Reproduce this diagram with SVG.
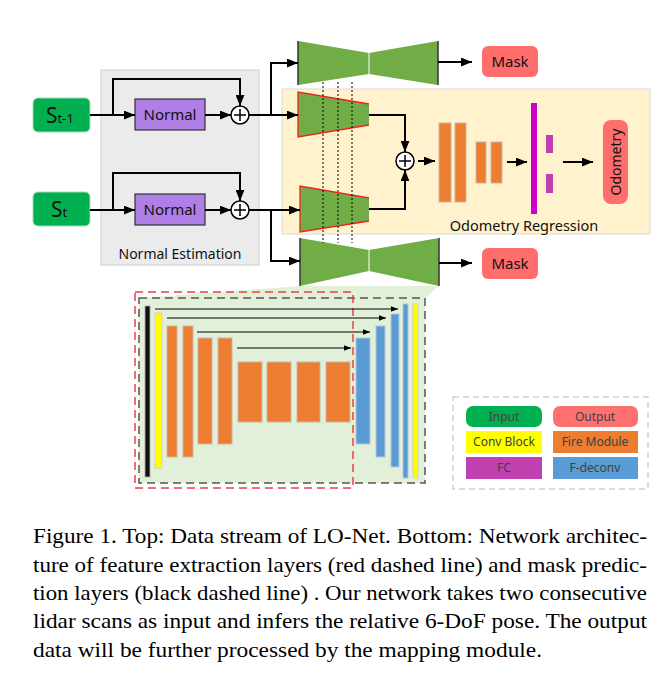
<svg xmlns="http://www.w3.org/2000/svg" width="663" height="685" viewBox="0 0 663 685">
<style>
.t{font-family:"Noto Sans","Open Sans",sans-serif;fill:#111}
.lg{font-family:"Noto Sans","Open Sans",sans-serif;fill:#404040;font-size:12px;text-anchor:middle}
.cap{font-family:"Liberation Serif","Times New Roman",serif;font-size:22px;fill:#000}
.ln{fill:none;stroke:#000;stroke-width:2}
.thin{fill:none;stroke:#000;stroke-width:1}
.dot{stroke:#000;stroke-width:1;stroke-dasharray:2,2}
.org{fill:#ed7d31;stroke:#c9b8a8;stroke-width:1}
.blu{fill:#5b9bd5;stroke:#b8c8d8;stroke-width:1}
.grn{fill:#70ad47}
</style>
<defs>
<marker id="ah" viewBox="0 0 10 8" refX="10" refY="4" markerWidth="11" markerHeight="9" markerUnits="userSpaceOnUse" orient="auto"><path d="M0,0 L10,4 L0,8 z" fill="#000"/></marker>
<marker id="as" viewBox="0 0 10 8" refX="10" refY="4" markerWidth="7" markerHeight="6" markerUnits="userSpaceOnUse" orient="auto"><path d="M0,0 L10,4 L0,8 z" fill="#000"/></marker>
</defs>
<rect width="663" height="685" fill="#fff"/>

<!-- background panels -->
<g id="normal-estimation">
<rect x="101" y="70" width="158" height="195" fill="#ebebeb" stroke="#d0d0d0"/>
<text class="t" x="180" y="259" font-size="14" text-anchor="middle">Normal Estimation</text>
</g>
<g id="odometry-regression">
<rect x="282" y="89" width="368" height="145" fill="#fff2cc" stroke="#d9d9d9"/>
<text class="t" x="524" y="231" font-size="14.5" text-anchor="middle">Odometry Regression</text>
</g>

<!-- inputs -->
<g id="s-t-1">
<rect x="33" y="98" width="57" height="34" rx="5" fill="#00b050" stroke="#a8d8b8"/>
<text class="t" x="46" y="123" font-size="21">S<tspan font-size="13">t-1</tspan></text>
</g>
<g id="s-t">
<rect x="33" y="192" width="57" height="34" rx="5" fill="#00b050" stroke="#a8d8b8"/>
<text class="t" x="51" y="217" font-size="21">S<tspan font-size="13">t</tspan></text>
</g>

<g id="normal-1">
<rect x="135" y="99" width="70" height="31" fill="#b07fe6" stroke="#333" stroke-width="1.2"/>
<text class="t" x="170" y="120" font-size="15" text-anchor="middle">Normal</text>
</g>
<g id="normal-2">
<rect x="135" y="194" width="70" height="31" fill="#b07fe6" stroke="#333" stroke-width="1.2"/>
<text class="t" x="170" y="215" font-size="15" text-anchor="middle">Normal</text>
</g>
<g id="plus-1">
<circle cx="240" cy="115" r="9" fill="#fff" stroke="#000" stroke-width="1.5"/>
<path d="M234,115 H246 M240,109 V121" stroke="#000" stroke-width="1.5"/>
</g>
<g id="plus-2">
<circle cx="240" cy="210" r="9" fill="#fff" stroke="#000" stroke-width="1.5"/>
<path d="M234,210 H246 M240,204 V216" stroke="#000" stroke-width="1.5"/>
</g>

<!-- lower green fan to detail -->
<polygon points="300,286 439,286 425,298 139,298" fill="#e2efd9"/>

<!-- hourglasses -->
<g id="mask-net-top">
<polygon class="grn" points="298,41 369,53 369,74 298,85"/>
<polygon class="grn" points="369,53 438,41 438,85 369,74"/>
<path d="M298,41 V85 M438,41 V85" stroke="#333" stroke-width="1.5"/>
<path d="M369,53 V74" stroke="#fff" stroke-width="1"/>
</g>
<g id="mask-net-bottom">
<polygon class="grn" points="300,238 369,250 369,271 300,286"/>
<polygon class="grn" points="369,250 439,238 439,286 369,271"/>
<path d="M300,238 V286 M439,238 V286" stroke="#333" stroke-width="1.5"/>
<path d="M369,250 V271" stroke="#fff" stroke-width="1"/>
</g>

<g id="encoder-top">
<polygon class="grn" points="298,92 369,104 369,125 298,137"/>
<path d="M369,104 L298,92 V137 L369,125" fill="none" stroke="#f02020" stroke-width="1.3"/>
</g>
<g id="encoder-bottom">
<polygon class="grn" points="300,186 369,198 369,221 300,232"/>
<path d="M369,198 L300,186 V232 L369,221" fill="none" stroke="#f02020" stroke-width="1.3"/>
</g>

<g id="plus-3">
<circle cx="405" cy="161" r="9" fill="#fff" stroke="#000" stroke-width="1.5"/>
<path d="M399,161 H411 M405,155 V167" stroke="#000" stroke-width="1.5"/>
</g>

<g id="fire-layers">
<rect class="org" x="439" y="123" width="12" height="79"/>
<rect class="org" x="455" y="123" width="11" height="79"/>
<rect class="org" x="476" y="142" width="10" height="41"/>
<rect class="org" x="491" y="142" width="11" height="41"/>
</g>
<g id="fc-layers">
<rect x="531" y="103" width="6" height="111" fill="#cc00cc"/>
<rect x="546" y="135" width="7" height="18" fill="#c040b0"/>
<rect x="546" y="174" width="7" height="19" fill="#c040b0"/>
</g>
<g id="odometry">
<rect x="603" y="120" width="25" height="84" rx="8" fill="#ff6d6d"/>
<text class="t" transform="translate(621,162) rotate(-90)" font-size="14" text-anchor="middle">Odometry</text>
</g>
<g id="mask-top">
<rect x="482" y="46" width="56" height="31" rx="6" fill="#ff6d6d"/>
<text class="t" x="510" y="67" font-size="15" text-anchor="middle">Mask</text>
</g>
<g id="mask-bottom">
<rect x="482" y="248" width="56" height="31" rx="6" fill="#ff6d6d"/>
<text class="t" x="510" y="269" font-size="15" text-anchor="middle">Mask</text>
</g>

<!-- connectors -->
<g id="connectors">
<line class="ln" x1="90" y1="115" x2="135" y2="115" marker-end="url(#ah)"/>
<polyline class="ln" points="113,115 113,79 240,79 240,106" marker-end="url(#ah)"/>
<line class="ln" x1="205" y1="115" x2="231" y2="115" marker-end="url(#ah)"/>
<line class="ln" x1="90" y1="210" x2="135" y2="210" marker-end="url(#ah)"/>
<polyline class="ln" points="113,210 113,173 240,173 240,201" marker-end="url(#ah)"/>
<line class="ln" x1="205" y1="210" x2="231" y2="210" marker-end="url(#ah)"/>
<line class="ln" x1="249" y1="115" x2="298" y2="115" marker-end="url(#ah)"/>
<polyline class="ln" points="271,115 271,63 298,63" marker-end="url(#ah)"/>
<line class="ln" x1="249" y1="210" x2="300" y2="210" marker-end="url(#ah)"/>
<polyline class="ln" points="271,210 271,261 300,261" marker-end="url(#ah)"/>
<polyline class="ln" points="369,115 405,115 405,152" marker-end="url(#ah)"/>
<polyline class="ln" points="369,209 405,209 405,170" marker-end="url(#ah)"/>
<line class="ln" x1="418" y1="161" x2="435" y2="161" marker-end="url(#ah)"/>
<line class="ln" x1="507" y1="162" x2="527" y2="162" marker-end="url(#ah)"/>
<line class="ln" x1="563" y1="162" x2="593" y2="162" marker-end="url(#ah)"/>
<line class="ln" x1="438" y1="62" x2="472" y2="62" marker-end="url(#ah)"/>
<line class="ln" x1="439" y1="263" x2="472" y2="263" marker-end="url(#ah)"/>
<line class="dot" x1="323" y1="82" x2="323" y2="243"/>
<line class="dot" x1="338" y1="82" x2="338" y2="243"/>
<line class="dot" x1="352" y1="82" x2="352" y2="243"/>
</g>

<!-- detail architecture -->
<g id="architecture">
<rect x="139" y="298" width="286" height="185" fill="#e2efd9" stroke="#555" stroke-width="1.5" stroke-dasharray="8,5"/>
<rect x="135" y="292" width="218" height="196" fill="none" stroke="#f04040" stroke-width="1.5" stroke-dasharray="8,5"/>
<rect x="145" y="306" width="5" height="171" fill="#111" stroke="#aaa" stroke-width="0.8"/>
<rect x="155" y="313" width="7" height="155" fill="#ffff00" stroke="#ccc" stroke-width="0.8"/>
<rect class="org" x="167" y="326" width="10" height="131"/>
<rect class="org" x="183" y="326" width="10" height="131"/>
<rect class="org" x="198" y="338" width="14" height="106"/>
<rect class="org" x="218" y="338" width="14" height="106"/>
<rect class="org" x="238" y="362" width="24" height="60"/>
<rect class="org" x="267" y="362" width="24" height="60"/>
<rect class="org" x="297" y="362" width="23" height="60"/>
<rect class="org" x="326" y="362" width="24" height="60"/>
<rect class="blu" x="356" y="338" width="14" height="106"/>
<rect class="blu" x="376" y="326" width="9" height="131"/>
<rect class="blu" x="391" y="314" width="8" height="153"/>
<rect class="blu" x="403" y="304" width="5" height="174"/>
<rect x="413" y="304" width="5" height="174" fill="#ffff00" stroke="#ccc" stroke-width="0.8"/>
</g>
<g id="skip-connectors">
<line class="thin" x1="155" y1="309" x2="398" y2="309" marker-end="url(#as)"/>
<line class="thin" x1="167" y1="318" x2="386" y2="318" marker-end="url(#as)"/>
<line class="thin" x1="197" y1="332" x2="370" y2="332" marker-end="url(#as)"/>
<line class="thin" x1="237" y1="348" x2="351" y2="348" marker-end="url(#as)"/>
</g>

<!-- legend -->
<g id="legend">
<rect x="453" y="397" width="195" height="92" fill="#fff" stroke="#cfcfcf" stroke-width="1.5" stroke-dasharray="6,4"/>
<rect x="466" y="406" width="76" height="21" rx="7" fill="#00b050"/>
<text class="lg" x="504" y="421">Input</text>
<rect x="553" y="406" width="85" height="21" rx="7" fill="#ff7070"/>
<text class="lg" x="595" y="421">Output</text>
<rect x="466" y="431" width="76" height="22" fill="#ffff00"/>
<text class="lg" x="504" y="446">Conv Block</text>
<rect x="553" y="431" width="85" height="22" fill="#ed7d31"/>
<text class="lg" x="595" y="446">Fire Module</text>
<rect x="466" y="457" width="76" height="22" fill="#c040b0"/>
<text class="lg" x="504" y="472">FC</text>
<rect x="553" y="457" width="85" height="22" fill="#5b9bd5"/>
<text class="lg" x="595" y="472">F-deconv</text>
</g>

<!-- caption -->
<g id="caption">
<text class="cap" x="33" y="543" textLength="614" lengthAdjust="spacingAndGlyphs">Figure 1. Top: Data stream of LO-Net. Bottom: Network architec-</text>
<text class="cap" x="33" y="572" textLength="614" lengthAdjust="spacingAndGlyphs">ture of feature extraction layers (red dashed line) and mask predic-</text>
<text class="cap" x="33" y="600" textLength="614" lengthAdjust="spacingAndGlyphs">tion layers (black dashed line) . Our network takes two consecutive</text>
<text class="cap" x="33" y="628" textLength="614" lengthAdjust="spacingAndGlyphs">lidar scans as input and infers the relative 6-DoF pose. The output</text>
<text class="cap" x="33" y="657" textLength="509" lengthAdjust="spacingAndGlyphs">data will be further processed by the mapping module.</text>
</g>
</svg>
